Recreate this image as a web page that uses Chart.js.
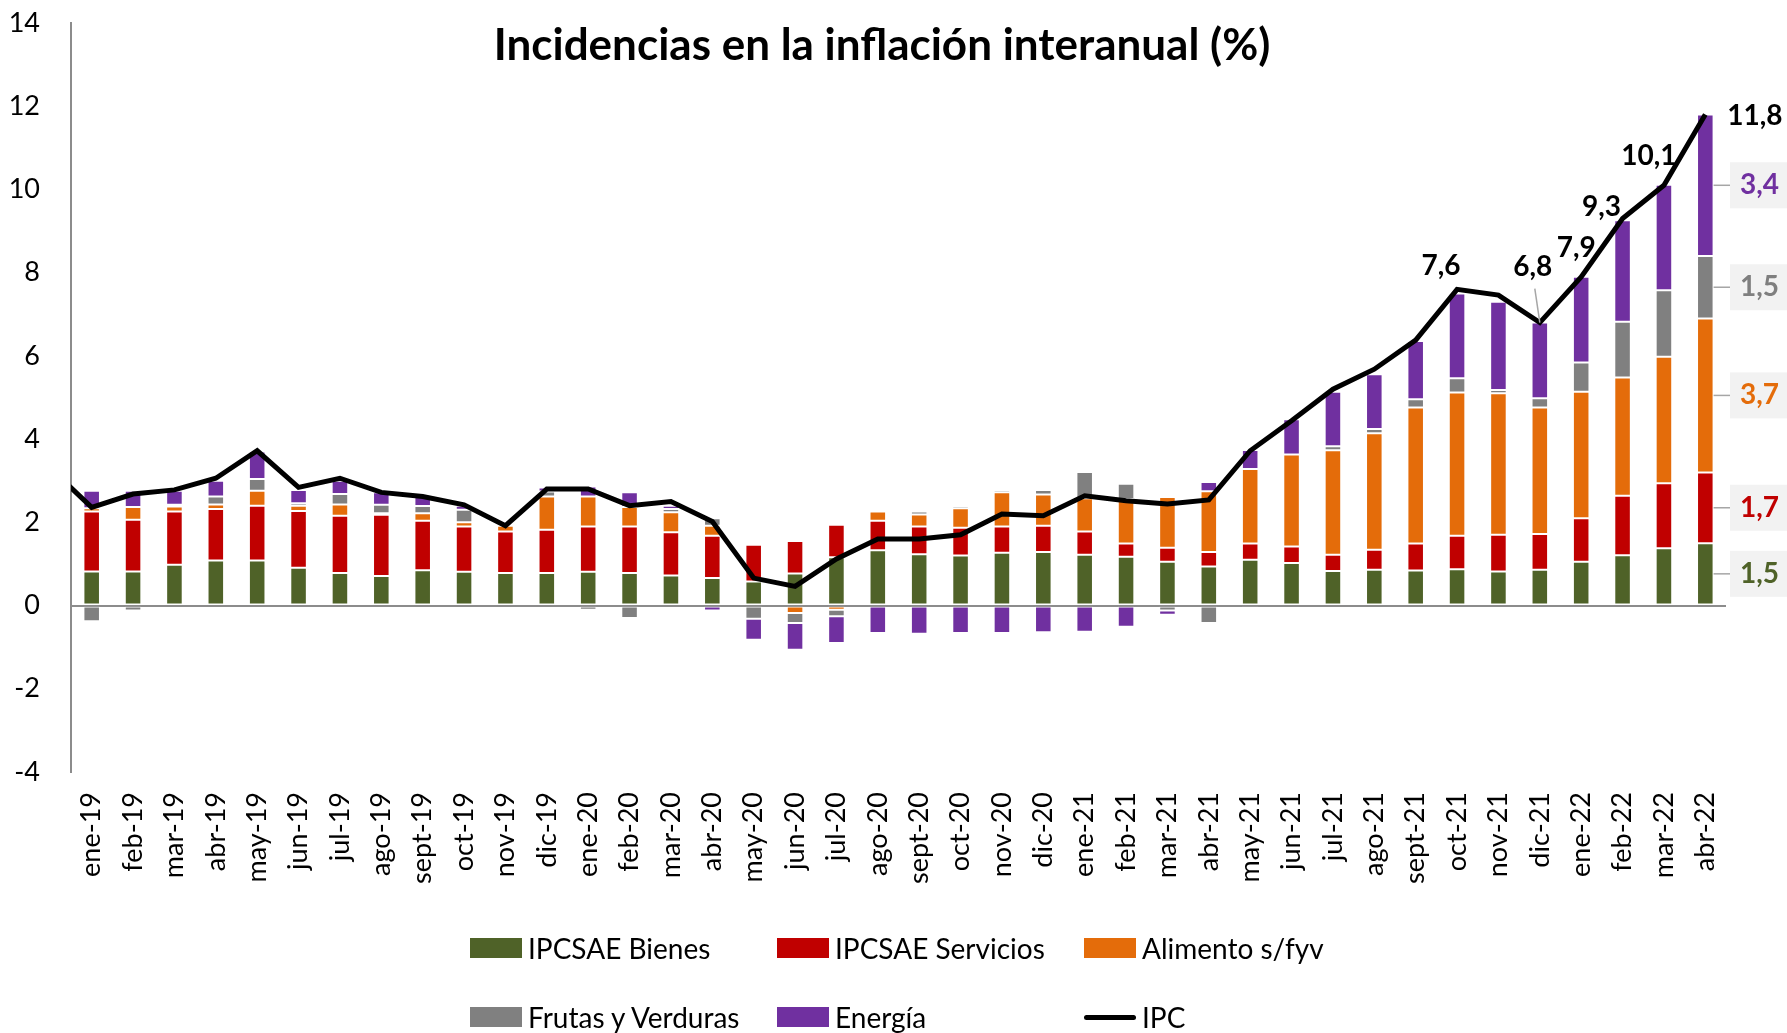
<!DOCTYPE html>
<html lang="es">
<head>
<meta charset="utf-8">
<title>Incidencias en la inflación interanual (%)</title>
<script src="https://cdn.jsdelivr.net/npm/chart.js@4.4.1/dist/chart.umd.min.js"></script>
<style>
  html, body { margin: 0; padding: 0; background: #fff; }
  #marco { position: relative; width: 1787px; height: 1033px; overflow: hidden; font-family: Lato, "Open Sans", sans-serif; }
  #grafico { position: absolute; left: 0; top: 0; }
  #titulo { position: absolute; left: 882px; top: 19px; transform: translateX(-50%); white-space: nowrap;
            font-size: 44px; font-weight: 700; line-height: 48px; color: #000; }
  #leyenda { position: absolute; left: 470px; top: 926px; display: grid;
             grid-template-columns: 307px 307px 307px; grid-auto-rows: 69px; }
  .item { display: flex; align-items: center; height: 44px; font-size: 28px; color: #000; white-space: nowrap; }
  .muestra { width: 52px; height: 20px; margin-right: 6px; flex: none; }
  .muestra.linea { height: 5px; border-radius: 3px; }
</style>
</head>
<body>
<div id="marco">
  <canvas id="grafico" width="1787" height="1033"></canvas>
  <div id="titulo">Incidencias en la inflación interanual (%)</div>
  <div id="leyenda"></div>
</div>
<script>
// Meses
const meses = ['ene-19', 'feb-19', 'mar-19', 'abr-19', 'may-19', 'jun-19', 'jul-19', 'ago-19', 'sept-19', 'oct-19', 'nov-19', 'dic-19',
               'ene-20', 'feb-20', 'mar-20', 'abr-20', 'may-20', 'jun-20', 'jul-20', 'ago-20', 'sept-20', 'oct-20', 'nov-20', 'dic-20',
               'ene-21', 'feb-21', 'mar-21', 'abr-21', 'may-21', 'jun-21', 'jul-21', 'ago-21', 'sept-21', 'oct-21', 'nov-21', 'dic-21',
               'ene-22', 'feb-22', 'mar-22', 'abr-22'];

// Incidencias por componente (puntos porcentuales)
const bienes = [0.82, 0.82, 0.98, 1.08, 1.08, 0.91, 0.78, 0.71, 0.85, 0.81, 0.78, 0.78,
                0.81, 0.78, 0.72, 0.66, 0.58, 0.77, 1.16, 1.33, 1.23, 1.20, 1.27, 1.29,
                1.22, 1.17, 1.05, 0.94, 1.10, 1.02, 0.83, 0.86, 0.84, 0.87, 0.82, 0.86,
                1.05, 1.21, 1.38, 1.5];
const servicios = [1.44, 1.24, 1.28, 1.24, 1.32, 1.36, 1.38, 1.47, 1.19, 1.09, 1.00, 1.04,
                   1.09, 1.12, 1.04, 1.02, 0.88, 0.78, 0.78, 0.71, 0.67, 0.67, 0.63, 0.63,
                   0.56, 0.32, 0.34, 0.35, 0.39, 0.40, 0.39, 0.48, 0.65, 0.81, 0.88, 0.86,
                   1.05, 1.43, 1.56, 1.7];
const alimentos = [0.08, 0.31, 0.12, 0.11, 0.36, 0.13, 0.27, 0.04, 0.18, 0.10, 0.14, 0.80,
                   0.72, 0.47, 0.48, 0.24, 0.00, -0.18, -0.10, 0.22, 0.29, 0.47, 0.82, 0.75,
                   0.80, 1.07, 1.22, 1.46, 1.79, 2.21, 2.51, 2.80, 3.27, 3.44, 3.40, 3.04,
                   3.04, 2.84, 3.04, 3.7];
const frutas = [-0.38, -0.12, 0.04, 0.19, 0.28, 0.06, 0.25, 0.20, 0.17, 0.30, 0.02, 0.12,
                -0.10, -0.30, 0.08, 0.18, -0.32, -0.24, -0.16, 0.00, 0.07, 0.05, 0.06, 0.11,
                0.63, 0.37, -0.12, -0.42, -0.06, -0.02, 0.10, 0.10, 0.20, 0.34, 0.08, 0.22,
                0.70, 1.34, 1.60, 1.5];
const energia = [0.42, 0.39, 0.34, 0.38, 0.66, 0.32, 0.32, 0.30, 0.23, 0.10, 0.02, 0.10,
                 0.24, 0.35, 0.08, -0.12, -0.50, -0.64, -0.64, -0.66, -0.68, -0.66, -0.66, -0.64,
                 -0.63, -0.51, -0.10, 0.22, 0.46, 0.85, 1.31, 1.32, 1.40, 2.04, 2.12, 1.82,
                 2.06, 2.44, 2.53, 3.4];

// Inflación general (IPC, %); el valor de dic-18 solo se ve como el tramo que entra por el eje
const ipcPrevio = 3.3;
const ipc = [2.36, 2.68, 2.78, 3.06, 3.72, 2.84, 3.06, 2.72, 2.62, 2.42, 1.92, 2.80,
             2.80, 2.40, 2.50, 2.02, 0.66, 0.46, 1.12, 1.60, 1.60, 1.70, 2.20, 2.16,
             2.64, 2.52, 2.44, 2.54, 3.72, 4.44, 5.20, 5.68, 6.38, 7.6, 7.46, 6.8,
             7.9, 9.3, 10.1, 11.8];

// Eje Y
const ticksY = [-4, -2, 0, 2, 4, 6, 8, 10, 12, 14];

const nombres = ['IPCSAE Bienes', 'IPCSAE Servicios', 'Alimento s/fyv', 'Frutas y Verduras', 'Energía'];
const colores = ['#4f6228', '#c00000', '#e46c0a', '#808080', '#7030a0'];
const coloresTexto = ['#4f6228', '#c00000', '#e46c0a', '#7f7f7f', '#7030a0'];

// Meses del IPC que llevan etiqueta, con su desplazamiento respecto al punto
const etiquetasIPC = {
  33: { dx: -16, dy: -23 },
  35: { dx: -7, dy: -56, guia: true },
  36: { dx: -5, dy: -29 },
  37: { dx: -21, dy: -12 },
  38: { dx: -15, dy: -29 },
  39: { dx: 22, dy: 1, izquierda: true }
};

const fmt = v => v.toFixed(1).replace('.', ',');
const FUENTE = "Lato, 'Open Sans', sans-serif";
Chart.defaults.font.family = FUENTE;
Chart.defaults.color = '#000';

const series = [bienes, servicios, alimentos, frutas, energia];
const datasets = series.map((d, i) => ({
  type: 'bar',
  label: nombres[i],
  data: d,
  backgroundColor: colores[i],
  borderColor: 'rgba(255,255,255,0.35)',
  borderWidth: 1,
  borderSkipped: false,
  grouped: false,
  categoryPercentage: 1,
  barPercentage: 0.4,
  stack: 'componentes',
  xAxisID: 'x',
  order: 1
}));

// La línea va sobre un eje lineal oculto para poder incluir el mes anterior (x = -1)
const puntosIPC = [{ x: -1, y: ipcPrevio }].concat(ipc.map((v, i) => ({ x: i, y: v })));
datasets.push({
  type: 'line',
  label: 'IPC',
  data: puntosIPC,
  xAxisID: 'xLinea',
  borderColor: '#000',
  borderWidth: 5,
  pointRadius: 0,
  tension: 0,
  stack: 'ipc',
  order: 0
});

// Etiquetas del IPC y desglose del último mes
const rotulos = {
  id: 'rotulos',
  afterDatasetsDraw(chart) {
    const ctx = chart.ctx;
    const linea = chart.getDatasetMeta(5);
    ctx.save();
    ctx.font = '700 28px ' + FUENTE;
    ctx.textBaseline = 'middle';
    Object.keys(etiquetasIPC).forEach(k => {
      const i = Number(k);
      const e = etiquetasIPC[i];
      const p = linea.data[i + 1];
      if (e.guia) {
        ctx.strokeStyle = '#a6a6a6';
        ctx.lineWidth = 1.5;
        ctx.beginPath();
        ctx.moveTo(p.x + e.dx + 2, p.y + e.dy + 22);
        ctx.lineTo(p.x, p.y);
        ctx.stroke();
      }
      ctx.fillStyle = '#000';
      ctx.textAlign = e.izquierda ? 'left' : 'center';
      ctx.fillText(fmt(ipc[i]), p.x + e.dx, p.y + e.dy);
    });

    // Desglose de abr-22
    const ult = meses.length - 1;
    const caja = { x: chart.chartArea.right + 4, w: 70, h: 46 };
    series.forEach((d, s) => {
      const bar = chart.getDatasetMeta(s).data[ult];
      const medio = (bar.y + bar.base) / 2;
      const borde = bar.x + bar.width / 2;
      ctx.strokeStyle = '#a6a6a6';
      ctx.lineWidth = 1.5;
      ctx.beginPath();
      ctx.moveTo(borde, medio);
      ctx.lineTo(caja.x, medio);
      ctx.stroke();
      ctx.fillStyle = '#f2f2f2';
      ctx.fillRect(caja.x, medio - caja.h / 2, caja.w, caja.h);
      ctx.fillStyle = coloresTexto[s];
      ctx.textAlign = 'left';
      ctx.fillText(fmt(d[ult]), caja.x + 10, medio);
    });
    ctx.restore();
  }
};

const chart = new Chart(document.getElementById('grafico'), {
  data: { labels: meses, datasets: datasets },
  options: {
    responsive: false,
    animation: false,
    layout: { padding: { top: 23, right: 61, left: 0, bottom: 0 } },
    plugins: { legend: { display: false }, tooltip: { enabled: false } },
    scales: {
      x: {
        stacked: true,
        grid: { display: false, drawTicks: false },
        border: { display: false },
        ticks: { autoSkip: false, minRotation: 90, maxRotation: 90, padding: 20, font: { size: 27 } },
        afterFit(scale) { scale.height = 261; }
      },
      xLinea: {
        type: 'linear',
        display: false,
        min: -0.5,
        max: meses.length - 0.5
      },
      y: {
        stacked: true,
        min: -4,
        max: 14,
        afterBuildTicks(scale) { scale.ticks = ticksY.map(v => ({ value: v })); },
        grid: {
          drawTicks: false,
          color: c => c.tick && c.tick.value === 0 ? '#8c8c8c' : 'transparent',
          lineWidth: 2
        },
        border: { display: true, color: '#8c8c8c', width: 2 },
        ticks: { padding: 31, font: { size: 27 } },
        afterFit(scale) {
          scale.width = 71;
          scale.paddingTop = 0;
          scale.paddingBottom = 0;
        }
      }
    }
  },
  plugins: [rotulos]
});

// Leyenda
const leyenda = document.getElementById('leyenda');
chart.data.datasets.forEach(ds => {
  const item = document.createElement('div');
  item.className = 'item';
  const m = document.createElement('span');
  m.className = ds.type === 'line' ? 'muestra linea' : 'muestra';
  m.style.background = ds.type === 'line' ? ds.borderColor : ds.backgroundColor;
  item.appendChild(m);
  item.appendChild(document.createTextNode(ds.label));
  leyenda.appendChild(item);
});
</script>
</body>
</html>
